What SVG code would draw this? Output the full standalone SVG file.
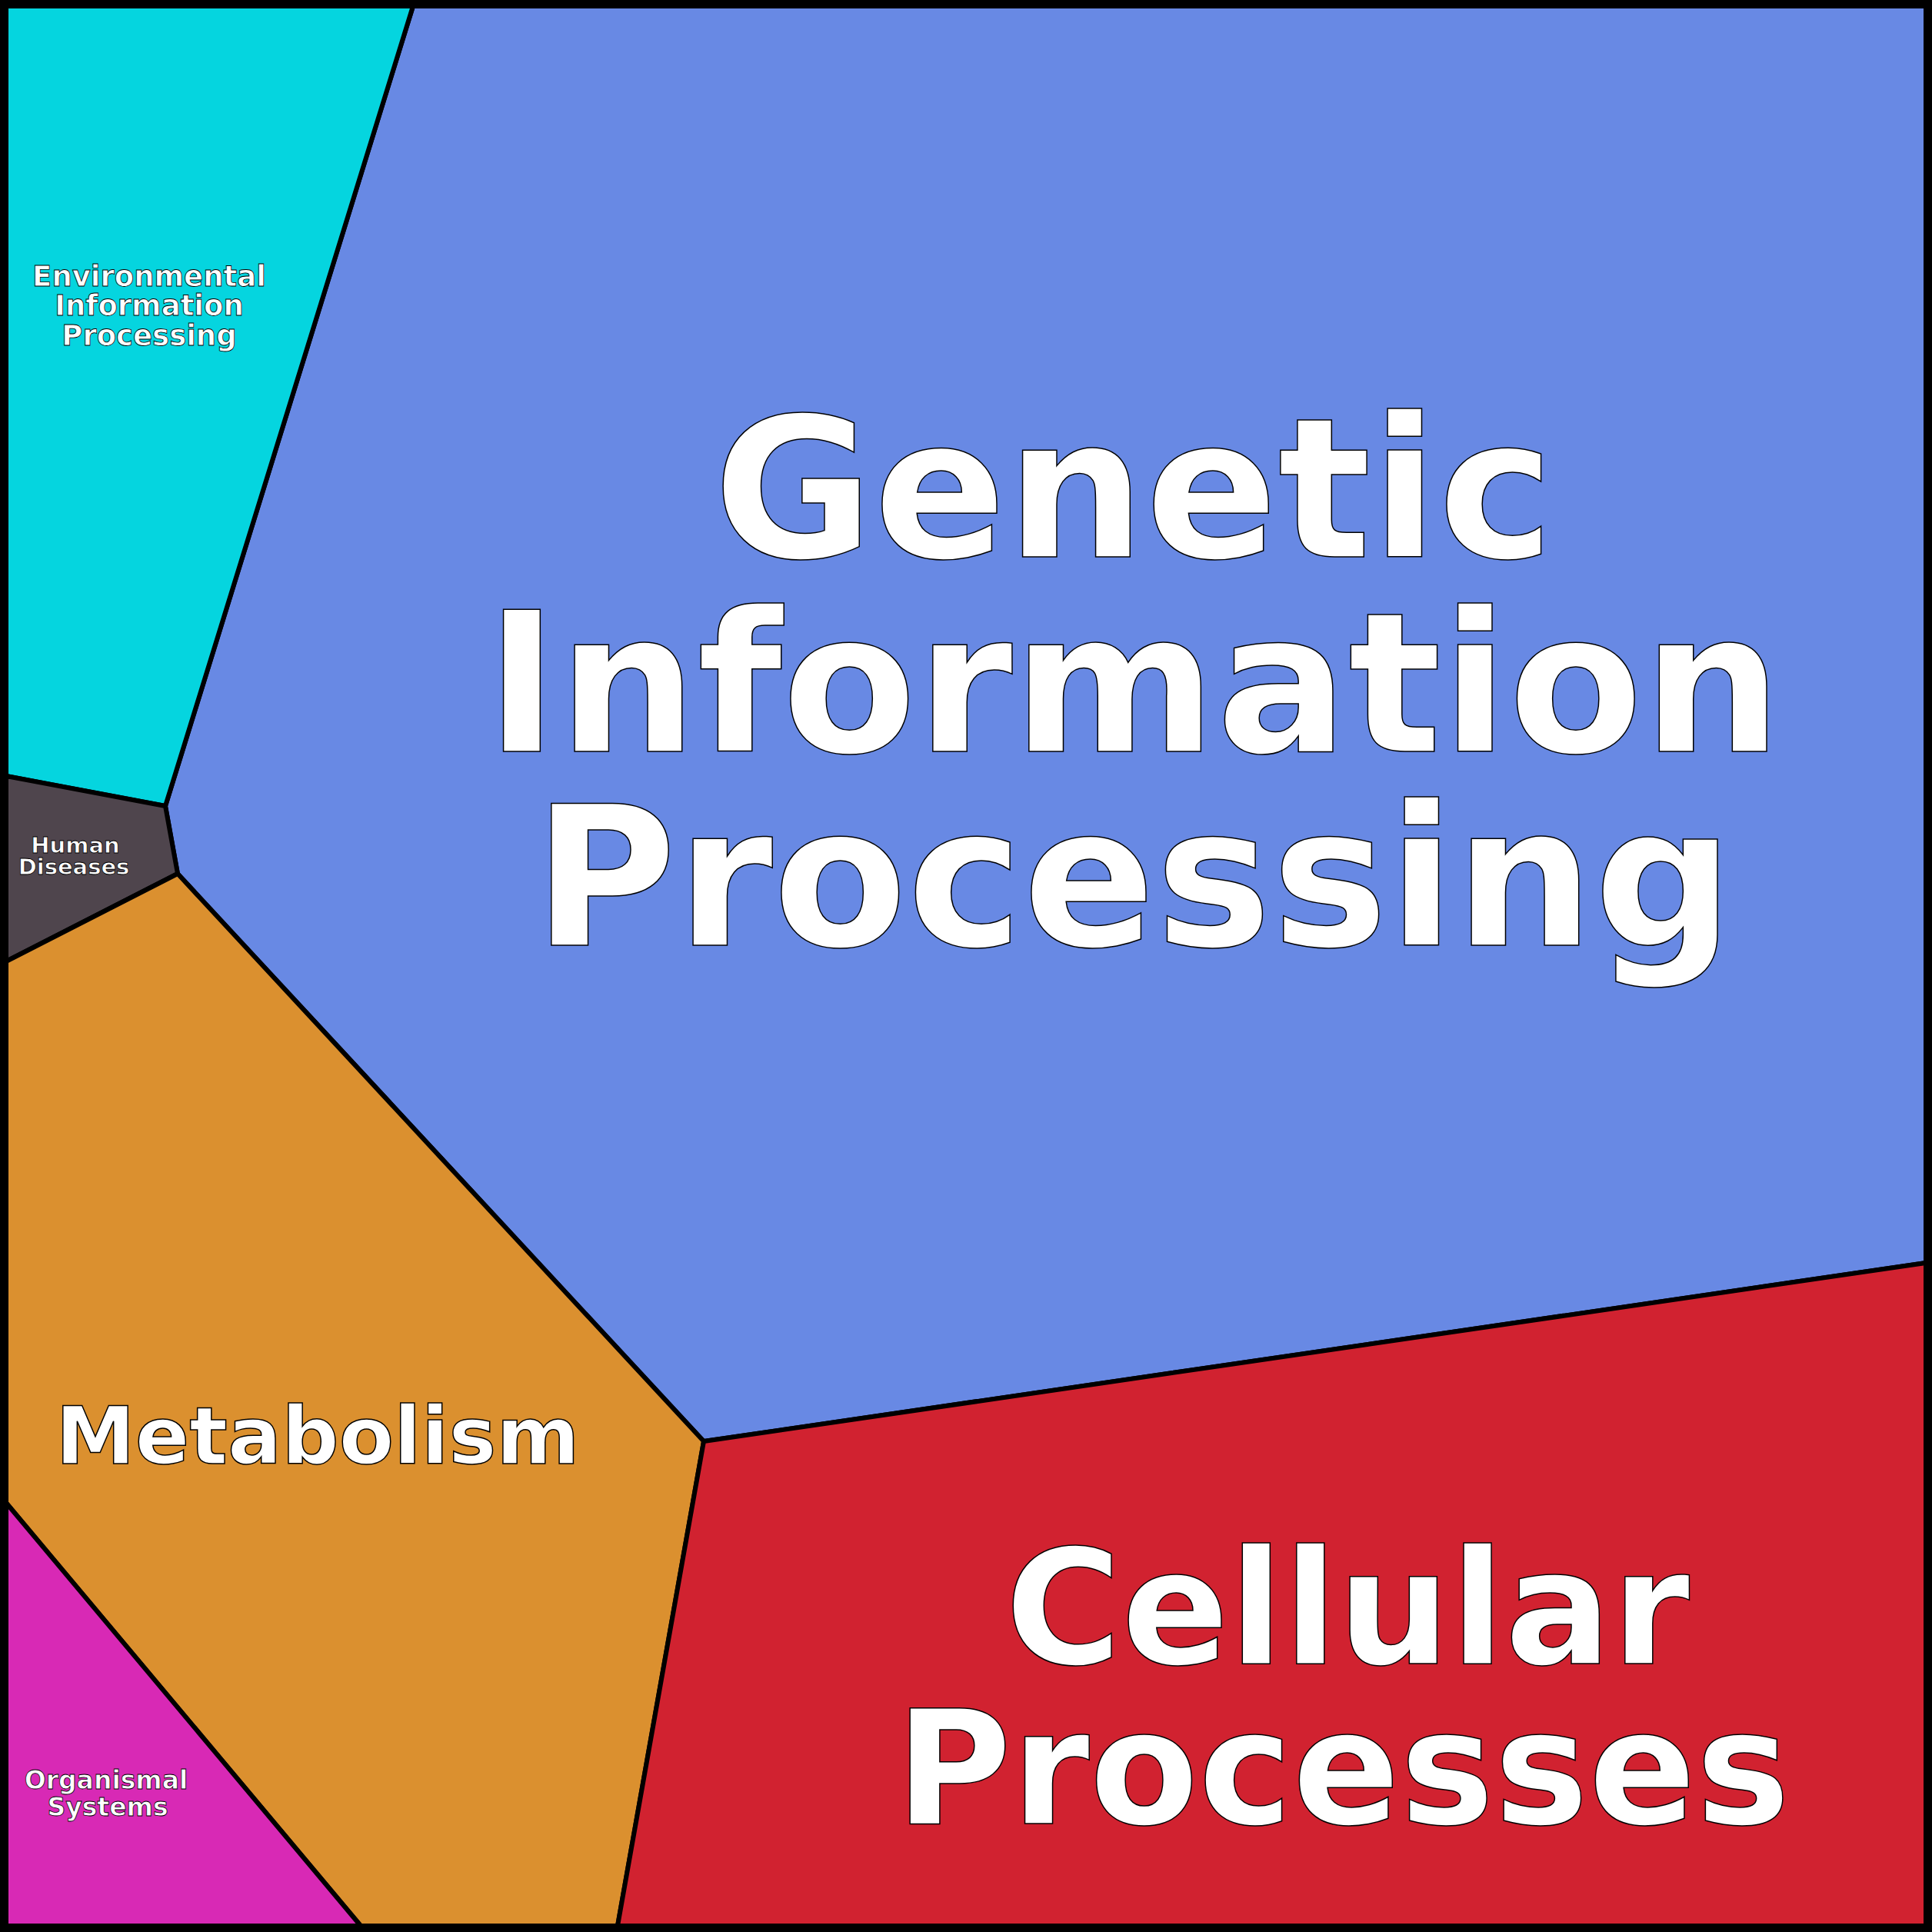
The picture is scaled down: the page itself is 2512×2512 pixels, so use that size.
<svg xmlns="http://www.w3.org/2000/svg" width="2512" height="2512" viewBox="0 0 2512 2512">
<style>
.c{stroke:#000;stroke-width:6;stroke-linejoin:round}
.t{font-family:"DejaVu Sans",sans-serif;font-weight:bold;fill:#fff;stroke:#000;stroke-width:1.5;text-anchor:middle}
.s{stroke-width:0.8}
</style>
<rect x="0" y="0" width="2512" height="2512" fill="#fff"/>
<g id="genetic"><polygon class="c" fill="#6889E4" points="537,8 2504,8 2504,1642 915,1874 231,1136 215,1048"/>
<text class="t" font-size="254" x="1474" y="724">Genetic</text><text class="t" font-size="254" x="1474" y="977">Information</text><text class="t" font-size="254" x="1474" y="1229">Processing</text></g>
<g id="environmental"><polygon class="c" fill="#05D5DF" points="8,8 537,8 215,1048 8,1009"/>
<text class="t s" font-size="37" x="194" y="372">Environmental</text><text class="t s" font-size="37" x="194" y="410">Information</text><text class="t s" font-size="37" x="194" y="449">Processing</text></g>
<g id="human"><polygon class="c" fill="#4F454D" points="8,1009 215,1048 231,1136 8,1250"/>
<text class="t s" font-size="29" x="98" y="1109">Human</text><text class="t s" font-size="29" x="96" y="1137">Diseases</text></g>
<g id="metabolism"><polygon class="c" fill="#DB902F" points="8,1250 231,1136 915,1874 803,2504 469,2504 8,1954"/>
<text class="t" font-size="104" x="413" y="1903">Metabolism</text></g>
<g id="organismal"><polygon class="c" fill="#D829B5" points="8,1954 469,2504 8,2504"/>
<text class="t s" font-size="33" x="138" y="2326">Organismal</text><text class="t s" font-size="33" x="140" y="2361">Systems</text></g>
<g id="cellular"><polygon class="c" fill="#D12230" points="915,1874 2504,1642 2504,2504 803,2504"/>
<text class="t" font-size="206" x="1752" y="2163">Cellular</text><text class="t" font-size="206" x="1746" y="2371">Processes</text></g>
<g id="connectors"></g>
<rect x="5" y="5" width="2502" height="2502" fill="none" stroke="#000" stroke-width="10"/>
</svg>
